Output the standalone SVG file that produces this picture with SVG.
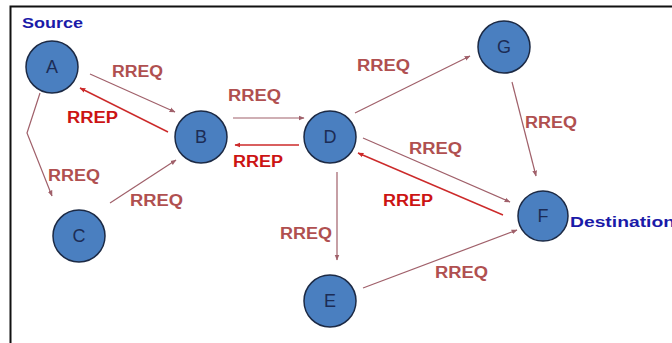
<svg xmlns="http://www.w3.org/2000/svg" width="672" height="343" viewBox="0 0 672 343">
<style>
.node circle{fill:#4a7fc0;stroke:#1c2a45;stroke-width:1.5}
.node text{font-family:"Liberation Sans",Arial,sans-serif;font-size:18px;fill:#1c2c55;text-anchor:middle}
.req{stroke:#a0606a;stroke-width:1.2;fill:none;marker-end:url(#mreq)}
.rep{stroke:#cc2a2a;stroke-width:1.4;fill:none;marker-end:url(#mrep)}
.lq{font-family:"Liberation Sans",Arial,sans-serif;font-size:16px;font-weight:bold;fill:#b05050}
.lp{font-family:"Liberation Sans",Arial,sans-serif;font-size:16px;font-weight:bold;fill:#cc1414}
.tag{font-family:"Liberation Sans",Arial,sans-serif;font-size:15px;font-weight:bold;fill:#1a1aa8}
</style>
<defs>
<marker id="mreq" viewBox="0 0 10 10" refX="9" refY="5" markerWidth="6" markerHeight="6" orient="auto" markerUnits="userSpaceOnUse"><path d="M0,1 L10,5 L0,9 z" fill="#a0606a"/></marker>
<marker id="mrep" viewBox="0 0 10 10" refX="9" refY="5" markerWidth="6" markerHeight="6" orient="auto" markerUnits="userSpaceOnUse"><path d="M0,1 L10,5 L0,9 z" fill="#cc2a2a"/></marker>
</defs>
<rect x="0" y="0" width="672" height="343" fill="#fff"/>
<rect x="10.5" y="6.5" width="700" height="400" fill="none" stroke="#111" stroke-width="2"/>
<g id="connectors">
<line class="req" x1="90" y1="74" x2="175" y2="112"/>
<line class="rep" x1="168" y1="132" x2="80" y2="88"/>
<polyline class="req" points="40,93 27,133 52,196"/>
<line class="req" x1="110" y1="203" x2="176" y2="160"/>
<line class="req" x1="233" y1="118" x2="304" y2="118"/>
<line class="rep" x1="299" y1="145" x2="235" y2="145"/>
<line class="req" x1="355" y1="113" x2="470" y2="56"/>
<line class="req" x1="512" y1="82" x2="536" y2="176"/>
<line class="req" x1="363" y1="138" x2="510" y2="202"/>
<line class="rep" x1="503" y1="215" x2="358" y2="153"/>
<line class="req" x1="337" y1="172" x2="337" y2="260"/>
<line class="req" x1="363" y1="288" x2="517" y2="230"/>
<text class="lq" x="112" y="77" textLength="51" lengthAdjust="spacingAndGlyphs">RREQ</text>
<text class="lp" x="67" y="123" textLength="51" lengthAdjust="spacingAndGlyphs">RREP</text>
<text class="lq" x="48" y="181" textLength="52" lengthAdjust="spacingAndGlyphs">RREQ</text>
<text class="lq" x="130" y="206" textLength="53" lengthAdjust="spacingAndGlyphs">RREQ</text>
<text class="lq" x="228" y="101" textLength="53" lengthAdjust="spacingAndGlyphs">RREQ</text>
<text class="lp" x="233" y="167" textLength="50" lengthAdjust="spacingAndGlyphs">RREP</text>
<text class="lq" x="357" y="71" textLength="53" lengthAdjust="spacingAndGlyphs">RREQ</text>
<text class="lq" x="525" y="128" textLength="52" lengthAdjust="spacingAndGlyphs">RREQ</text>
<text class="lq" x="409" y="154" textLength="53" lengthAdjust="spacingAndGlyphs">RREQ</text>
<text class="lp" x="383" y="206" textLength="50" lengthAdjust="spacingAndGlyphs">RREP</text>
<text class="lq" x="280" y="239" textLength="52" lengthAdjust="spacingAndGlyphs">RREQ</text>
<text class="lq" x="435" y="278" textLength="53" lengthAdjust="spacingAndGlyphs">RREQ</text>
</g>
<text class="tag" x="22" y="28" textLength="61" lengthAdjust="spacingAndGlyphs">Source</text>
<text class="tag" x="570" y="227" textLength="105" lengthAdjust="spacingAndGlyphs">Destination</text>
<g id="A" class="node"><circle cx="52" cy="67" r="26"/><text x="52" y="73">A</text></g>
<g id="B" class="node"><circle cx="201" cy="137" r="26"/><text x="201" y="143">B</text></g>
<g id="C" class="node"><circle cx="79" cy="236" r="26"/><text x="79" y="242">C</text></g>
<g id="D" class="node"><circle cx="330" cy="137" r="26"/><text x="330" y="143">D</text></g>
<g id="E" class="node"><circle cx="330" cy="301" r="26"/><text x="330" y="307">E</text></g>
<g id="F" class="node"><circle cx="543" cy="216" r="25"/><text x="543" y="222">F</text></g>
<g id="G" class="node"><circle cx="504" cy="47" r="26"/><text x="504" y="53">G</text></g>
</svg>
